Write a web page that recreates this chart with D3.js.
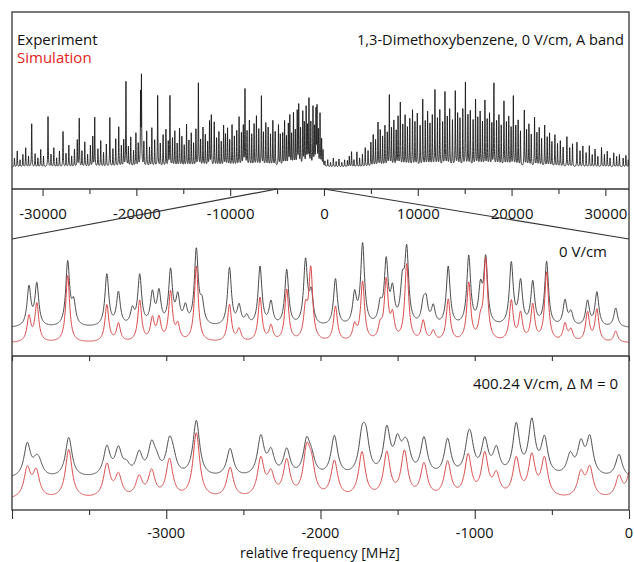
<!DOCTYPE html>
<html>
<head>
<meta charset="utf-8">
<script src="https://cdn.jsdelivr.net/npm/d3@7.9.0/dist/d3.min.js"></script>
<style>
  body { margin: 0; background: #fff; }
  svg { display: block; font-family: "Open Sans", sans-serif; }
</style>
</head>
<body>
<svg id="chart" width="634" height="562"></svg>
<script>
// overview spectrum: [frequency MHz, intensity]
const topPeaks = [
  [-33000,10],[-32700,18],[-32400,8],[-32100,14],[-31800,22],[-31500,12],[-31160,50],[-30800,15],[-30500,10],[-30200,20],
  [-29900,12],[-29420,57],[-29100,14],[-28800,22],[-28500,10],[-28200,18],[-27820,40],[-27500,15],[-27200,25],[-26900,12],
  [-26600,20],[-26300,30],[-26090,55],[-25800,18],[-25500,28],[-25200,14],[-24900,24],[-24650,34],[-24440,57],[-24100,20],
  [-23800,30],[-23500,16],[-23200,26],[-22830,56],[-22500,20],[-22200,32],[-21880,46],[-21600,24],[-21350,30],[-21110,97],
  [-20850,22],[-20600,34],[-20300,18],[-20050,38],[-19800,26],[-19550,79],[-19460,99],[-19200,28],[-18900,40],[-18600,22],
  [-18350,44],[-18050,30],[-17730,81],[-17450,26],[-17150,36],[-16850,42],[-16600,28],[-16420,80],[-16150,32],[-15900,40],
  [-15650,26],[-15400,44],[-15150,34],[-14900,24],[-14650,48],[-14400,30],[-14150,38],[-13900,26],[-13650,42],[-13390,95],
  [-13150,30],[-12900,44],[-12650,36],[-12400,28],[-12200,52],[-12010,58],[-11700,50],[-11450,32],[-11200,40],[-10950,28],
  [-10700,46],[-10500,36],[-10280,44],[-10050,30],[-9800,48],[-9550,34],[-9300,40],[-9050,56],[-8800,38],[-8600,46],
  [-8420,87],[-8200,40],[-7950,52],[-7700,36],[-7450,48],[-7200,58],[-6950,42],[-6670,80],[-6450,38],[-6200,50],
  [-5950,44],[-5700,36],[-5450,52],[-5200,40],[-4850,47],[-4650,36],[-4400,38],[-4200,52],[-4000,34],[-3800,48],
  [-3640,58],[-3450,36],[-3250,60],[-3050,40],[-2850,62],[-2690,69],[-2500,42],[-2260,61],[-2100,48],[-1900,66],
  [-1750,44],[-1600,77],[-1400,50],[-1170,67],[-1000,44],[-850,62],[-740,65],[-600,40],[-420,59],[-250,30],
  [-100,18],[100,6],[400,8],[700,5],[1000,10],[1300,6],[1600,9],[1900,5],[2200,8],[2500,7],
  [2700,12],[2940,17],[3200,8],[3510,17],[3800,10],[4100,14],[4400,22],[4700,18],[5000,28],[5250,36],
  [5500,30],[5760,51],[6000,42],[6250,34],[6500,46],[6750,38],[6970,81],[7200,44],[7450,52],[7700,40],
  [7900,56],[8140,72],[8400,48],[8650,58],[8900,44],[9150,54],[9440,65],[9700,50],[9950,60],[10250,46],
  [10530,76],[10800,52],[11050,62],[11300,48],[11550,58],[11830,87],[12100,54],[12350,64],[12650,50],[12900,84],
  [13150,56],[13400,66],[13700,52],[14000,87],[14250,60],[14500,54],[14800,66],[15080,97],[15350,58],[15600,64],
  [15900,52],[16160,77],[16400,56],[16650,62],[16900,50],[17160,76],[17400,54],[17650,60],[17900,48],[18120,96],
  [18400,52],[18650,58],[18900,46],[19190,74],[19450,50],[19700,56],[19950,44],[20190,80],[20450,46],[20700,52],
  [20950,40],[21360,65],[21600,42],[21850,48],[22100,36],[22450,56],[22700,38],[22950,44],[23200,32],[23530,47],
  [23800,34],[24050,38],[24300,28],[24620,36],[24900,26],[25200,30],[25500,22],[25900,34],[26200,22],[26500,26],
  [26970,28],[27300,18],[27600,24],[27950,16],[28290,24],[28600,14],[28900,20],[29200,12],[29590,22],[29900,14],
  [30200,18],[30500,10],[30890,16],[31200,12],[31500,14],[31900,10],[32190,13],[32450,8]
];
const topMajorTicks = [-30000, -20000, -10000, 0, 10000, 20000, 30000];
const topMinorTicks = [-25000, -15000, -5000, 5000, 15000, 25000];

// 0 V/cm zoom: [frequency MHz, intensity]
const midExp = [
  [-3890,39],[-3839,42],[-3639,64],[-3600,22],[-3385,52],[-3310,33],[-3220,15],[-3172,50],[-3090,31],[-3047,32],
  [-2972,54],[-2925,27],[-2876,17],[-2805,75],[-2768,20],[-2590,58],[-2528,19],[-2478,9],[-2392,59],[-2321,23],
  [-2219,56],[-2097,64],[-2060,30],[-1903,47],[-1779,30],[-1727,81],[-1613,18],[-1574,62],[-1533,32],[-1469,37],
  [-1441,72],[-1334,18],[-1316,22],[-1269,18],[-1172,59],[-1039,69],[-963,34],[-929,65],[-763,62],[-703,43],
  [-624,43],[-534,64],[-415,25],[-376,13],[-269,25],[-208,34],[-86,19]
];
const midSim = [
  [-3890,25],[-3839,38],[-3639,67],[-3385,37],[-3310,18],[-3172,41],[-3090,22],[-3047,22],[-2972,49],[-2925,15],
  [-2805,76],[-2590,37],[-2528,12],[-2392,44],[-2321,15],[-2219,52],[-2097,30],[-2063,71],[-1903,35],[-1779,15],
  [-1727,59],[-1613,13],[-1574,59],[-1533,23],[-1441,77],[-1334,20],[-1269,10],[-1172,42],[-1039,58],[-963,16],
  [-929,81],[-763,40],[-703,27],[-624,36],[-534,69],[-415,17],[-376,11],[-269,29],[-208,32],[-86,11]
];

// 400.24 V/cm zoom: [frequency MHz, intensity]
const lowExp = [
  [-3901,33],[-3843,12],[-3822,10],[-3632,40],[-3385,29],[-3310,26],[-3258,9],[-3176,22],[-3095,29],[-3063,11],
  [-2979,31],[-2955,13],[-2805,56],[-2586,28],[-2387,39],[-2321,23],[-2219,26],[-2090,33],[-2058,15],[-1910,40],
  [-1731,34],[-1705,32],[-1570,45],[-1501,30],[-1456,18],[-1434,18],[-1329,37],[-1176,36],[-1043,25],[-1026,24],
  [-935,34],[-860,25],[-731,50],[-630,53],[-548,36],[-381,20],[-312,30],[-254,37],[-65,23]
];
const lowSim = [
  [-3901,29],[-3843,26],[-3632,49],[-3385,33],[-3310,22],[-3176,20],[-3095,26],[-2979,38],[-2805,65],[-2586,30],
  [-2387,38],[-2321,22],[-2219,36],[-2090,43],[-2058,27],[-1910,36],[-1731,45],[-1570,44],[-1456,45],[-1329,33],
  [-1176,35],[-1043,41],[-935,42],[-860,21],[-731,38],[-630,40],[-548,38],[-312,24],[-254,29],[-65,21],[10,28]
];
const zoomTicks = [-4000, -3500, -3000, -2500, -2000, -1500, -1000, -500, 0];
const zoomLabels = [-3000, -2000, -1000, 0];

const svg = d3.select('#chart');
const L = 12, R = 629, T = 12;
const axisTopY = 189, sepY = 356, axisBotY = 510;
const frameColor = '#333';

// sum of Lorentzian lines sampled across the range
function profile(peaks, gamma, f0, f1, step) {
  const pts = [];
  for (let f = f0; f <= f1 + 1e-9; f += step) {
    let s = 0;
    for (const [c, h] of peaks) {
      const d = (f - c) / gamma;
      s += h / (1 + d * d);
    }
    pts.push([f, s]);
  }
  return pts;
}

const defs = svg.append('defs');
function clip(id, y0, y1) {
  defs.append('clipPath').attr('id', id)
    .append('rect').attr('x', L).attr('y', y0).attr('width', R - L).attr('height', y1 - y0);
  return `url(#${id})`;
}

// --- overview panel ---
const topX = d3.scaleLinear().domain([-33260, 32520]).range([L, R]);
const topY = d3.scaleLinear().domain([0, 100]).range([167, 79]);
const topLine = d3.line().x(d => topX(d[0])).y(d => topY(d[1]));
svg.append('path')
  .datum(profile(topPeaks, 26, -33260, 32520, 8))
  .attr('clip-path', clip('c1', T, axisTopY))
  .attr('d', topLine)
  .attr('fill', 'none')
  .attr('stroke', '#1a1a1a')
  .attr('stroke-width', 0.9);

const topAxis = svg.append('g').attr('transform', `translate(0,${axisTopY})`)
  .call(d3.axisBottom(topX).tickValues(topMajorTicks).tickSize(7).tickFormat(d3.format('d')));
svg.append('g').attr('transform', `translate(0,${axisTopY})`)
  .call(d3.axisBottom(topX).tickValues(topMinorTicks).tickSize(5).tickFormat(''));
svg.selectAll('.domain').remove();
svg.selectAll('.tick line').attr('stroke', frameColor).attr('stroke-width', 1.1);
topAxis.selectAll('text')
  .attr('y', 30).attr('dy', 0)
  .attr('font-size', 15).attr('font-family', '"Open Sans", sans-serif').attr('fill', '#111')
  .text(d => d < 0 ? '-' + Math.abs(d) : d);

// zoom connector lines
svg.append('line').attr('x1', topX(-5000)).attr('y1', axisTopY).attr('x2', L).attr('y2', 239)
  .attr('stroke', frameColor).attr('stroke-width', 1.2);
svg.append('line').attr('x1', topX(0)).attr('y1', axisTopY).attr('x2', R).attr('y2', 239)
  .attr('stroke', frameColor).attr('stroke-width', 1.2);

// --- zoomed panels ---
const zx = d3.scaleLinear().domain([-4000, 0]).range([L, R]);
const midExpY = d3.scaleLinear().domain([0, 100]).range([328, 228]);
const midSimY = d3.scaleLinear().domain([0, 100]).range([343, 243]);
const lowExpY = d3.scaleLinear().domain([0, 100]).range([479, 379]);
const lowSimY = d3.scaleLinear().domain([0, 100]).range([500, 400]);

function drawTrace(peaks, gamma, yScale, color, clipUrl) {
  svg.append('path')
    .datum(profile(peaks, gamma, -4000, 0, 2))
    .attr('clip-path', clipUrl)
    .attr('d', d3.line().x(d => zx(d[0])).y(d => yScale(d[1])))
    .attr('fill', 'none')
    .attr('stroke', color)
    .attr('stroke-width', 1);
}
const cMid = clip('c2', 239, sepY);
const cLow = clip('c3', sepY, axisBotY);
drawTrace(midExp, 15, midExpY, '#4a4a4a', cMid);
drawTrace(midSim, 15, midSimY, '#d9484a', cMid);
drawTrace(lowExp, 26, lowExpY, '#4a4a4a', cLow);
drawTrace(lowSim, 26, lowSimY, '#d9484a', cLow);

// ticks under the middle panel
svg.append('g').attr('transform', `translate(0,${sepY})`)
  .call(d3.axisBottom(zx).tickValues(zoomTicks).tickSize(5).tickFormat(''))
  .call(g => g.select('.domain').remove())
  .selectAll('line').attr('stroke', frameColor).attr('stroke-width', 1.1);

// bottom axis
const botMinor = zoomTicks.filter(d => d % 1000 !== 0);
svg.append('g').attr('transform', `translate(0,${axisBotY})`)
  .call(d3.axisBottom(zx).tickValues(botMinor).tickSize(5).tickFormat(''))
  .call(g => g.select('.domain').remove())
  .selectAll('line').attr('stroke', frameColor).attr('stroke-width', 1.1);
const botAxis = svg.append('g').attr('transform', `translate(0,${axisBotY})`)
  .call(d3.axisBottom(zx).tickValues([-4000].concat(zoomLabels)).tickSize(9).tickFormat(''))
  .call(g => g.select('.domain').remove());
botAxis.selectAll('line').attr('stroke', frameColor).attr('stroke-width', 1.1);
svg.append('g').selectAll('text').data(zoomLabels).join('text')
  .attr('x', d => zx(d)).attr('y', axisBotY + 28)
  .attr('text-anchor', 'middle').attr('font-size', 14.5).attr('fill', '#111')
  .text(d => d < 0 ? '-' + Math.abs(d) : d);
svg.append('text').attr('x', 320).attr('y', 558).attr('text-anchor', 'middle')
  .attr('font-size', 14).attr('fill', '#111').text('relative frequency [MHz]');

// frame and separators
svg.append('rect').attr('x', L).attr('y', T).attr('width', R - L).attr('height', axisBotY - T)
  .attr('fill', 'none').attr('stroke', frameColor).attr('stroke-width', 1.3);
[axisTopY, sepY].forEach(y => {
  svg.append('line').attr('x1', L).attr('x2', R).attr('y1', y).attr('y2', y)
    .attr('stroke', frameColor).attr('stroke-width', 1.3);
});

// labels
svg.append('text').attr('x', 17).attr('y', 45).attr('font-size', 15).attr('fill', '#111').text('Experiment');
svg.append('text').attr('x', 17).attr('y', 63).attr('font-size', 15).attr('fill', '#e2231a').text('Simulation');
svg.append('text').attr('x', 624).attr('y', 45).attr('text-anchor', 'end').attr('font-size', 14.6).attr('fill', '#111')
  .text('1,3-Dimethoxybenzene, 0 V/cm, A band');
svg.append('text').attr('x', 607).attr('y', 257).attr('text-anchor', 'end').attr('font-size', 15).attr('fill', '#111')
  .text('0 V/cm');
svg.append('text').attr('x', 618).attr('y', 389).attr('text-anchor', 'end').attr('font-size', 15).attr('fill', '#111')
  .text('400.24 V/cm, Δ M = 0');
</script>
</body>
</html>
